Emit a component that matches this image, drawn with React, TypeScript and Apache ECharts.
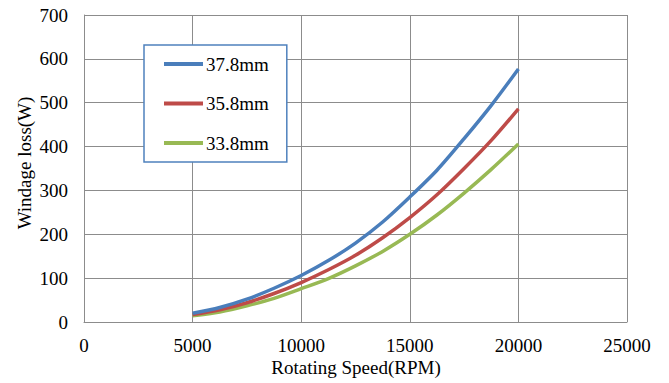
import React, { useEffect, useRef } from "react";
import * as echarts from "echarts";

const speeds = [5000, 6250, 7500, 8750, 10000, 11250, 12500, 13750, 15000, 16250, 17500, 18750, 20000];
const seriesNames = ["37.8mm", "35.8mm", "33.8mm"];
const loss378 = [20, 33, 52, 77, 106, 140, 180, 228, 285, 346, 418, 494, 577];
const loss358 = [17, 28, 44, 65, 90, 119, 152, 192, 238, 290, 350, 414, 486];
const loss338 = [14, 23, 37, 54, 76, 99, 128, 161, 200, 244, 294, 348, 406];
const colors = ["#4A7EBB", "#BE4B48", "#98B954"];
const xTitle = "Rotating Speed(RPM)";
const yTitle = "Windage loss(W)";

const FONT = "Liberation Serif";
const FS = 19;

export default function App() {
  const ref = useRef<HTMLDivElement>(null);
  useEffect(() => {
    if (!ref.current) return;
    const chart = echarts.init(ref.current, undefined, { renderer: "svg" });
    const all = [loss378, loss358, loss338];
    chart.setOption({
      animation: false,
      backgroundColor: "#ffffff",
      grid: { left: 84, right: 42, top: 15, bottom: 61, containLabel: false },
      xAxis: {
        type: "value",
        min: 0,
        max: 25000,
        interval: 5000,
        axisLine: { show: true, lineStyle: { color: "#8c8c8c", width: 1 } },
        axisTick: { show: false },
        axisLabel: {
          color: "#000",
          fontSize: FS,
          fontFamily: FONT,
          margin: 14,
          formatter: (v: number) => String(v),
        },
        splitLine: { show: true, lineStyle: { color: "#8c8c8c", width: 1 } },
      },
      yAxis: {
        type: "value",
        min: 0,
        max: 700,
        interval: 100,
        axisLine: { show: true, lineStyle: { color: "#8c8c8c", width: 1 } },
        axisTick: { show: false },
        axisLabel: { color: "#000", fontSize: FS, fontFamily: FONT, margin: 16 },
        splitLine: { show: true, lineStyle: { color: "#8c8c8c", width: 1 } },
      },
      legend: {
        orient: "vertical",
        left: 144,
        top: 45,
        padding: [9, 18, 9, 20],
        itemGap: 19.5,
        itemWidth: 39,
        itemHeight: 4,
        icon: "rect",
        borderColor: "#4F81BD",
        borderWidth: 1.5,
        backgroundColor: "#ffffff",
        textStyle: { fontSize: FS, fontFamily: FONT, color: "#000", lineHeight: 20, padding: [0, 0, 0, -2] },
        data: seriesNames,
      },
      graphic: [
        {
          type: "text",
          x: 356,
          y: 367,
          style: {
            text: xTitle,
            fontSize: FS,
            fontFamily: FONT,
            fill: "#000",
            textAlign: "center",
            textVerticalAlign: "middle",
          },
        },
        {
          type: "text",
          x: 24,
          y: 163,
          rotation: Math.PI / 2,
          style: {
            text: yTitle,
            fontSize: FS,
            fontFamily: FONT,
            fill: "#000",
            textAlign: "center",
            textVerticalAlign: "middle",
          },
        },
      ],
      series: seriesNames.map((name, i) => ({
        name,
        type: "line",
        smooth: 0.3,
        showSymbol: false,
        symbol: "none",
        lineStyle: { color: colors[i], width: 3.5 },
        itemStyle: { color: colors[i] },
        data: speeds.map((s, j) => [s, all[i][j]]),
        z: 3 - i,
      })),
    });
    return () => chart.dispose();
  }, []);
  return <div ref={ref} style={{ width: 669, height: 383, position: "absolute", left: 0, top: 0 }} />;
}
